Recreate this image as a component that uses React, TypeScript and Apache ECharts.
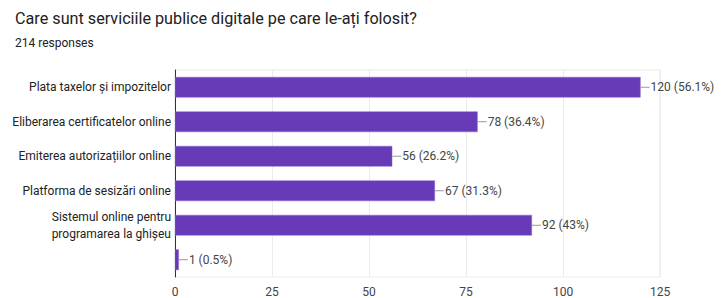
import React, { useEffect, useRef } from "react";
import * as echarts from "echarts";

const titleText = "Care sunt serviciile publice digitale pe care le-ați folosit?";
const subtitleText = "214 responses";
const categories = [
  "Plata taxelor și impozitelor",
  "Eliberarea certificatelor online",
  "Emiterea autorizațiilor online",
  "Platforma de sesizări online",
  "Sistemul online pentru\nprogramarea la ghișeu",
  "",
];
const values = [120, 78, 56, 67, 92, 1];
const percents = ["56.1%", "36.4%", "26.2%", "31.3%", "43%", "0.5%"];
const xTicks = [0, 25, 50, 75, 100, 125];

export default function App() {
  const ref = useRef<HTMLDivElement>(null);
  useEffect(() => {
    if (!ref.current) return;
    const chart = echarts.init(ref.current, null, { renderer: "svg" });
    chart.setOption({
      animation: false,
      textStyle: { fontFamily: "Roboto" },
      title: {
        text: titleText,
        subtext: subtitleText,
        left: 10,
        top: 5,
        itemGap: 11,
        textStyle: { fontSize: 16.2, fontWeight: "normal", color: "#212121", fontFamily: "Roboto" },
        subtextStyle: { fontSize: 12, color: "#212121", fontFamily: "Roboto" },
      },
      grid: {
        left: 175,
        right: 61,
        top: 70,
        bottom: 20,
        show: true,
        borderColor: "#ebebeb",
        borderWidth: 1,
      },
      xAxis: {
        type: "value",
        min: xTicks[0],
        max: xTicks[xTicks.length - 1],
        interval: 25,
        axisLine: { show: false },
        axisTick: { show: false },
        splitLine: { show: true, lineStyle: { color: "#ebebeb" } },
        axisLabel: { color: "#444", fontSize: 12, margin: 9 },
      },
      yAxis: {
        type: "category",
        inverse: true,
        data: categories,
        axisLine: { show: true, lineStyle: { color: "#333", width: 1 } },
        axisTick: { show: false },
        axisLabel: { color: "#222", fontSize: 12, margin: 4, lineHeight: 17 },
      },
      series: [
        {
          type: "bar",
          data: values,
          barCategoryGap: "40%",
          itemStyle: { color: "#673ab7", borderColor: "#8e6bd0", borderWidth: 0.5 },
          label: {
            show: true,
            position: "right",
            distance: 0,
            color: "#444",
            fontSize: 12,
            formatter: (p: any) => `{ln|}{t|${values[p.dataIndex]} (${percents[p.dataIndex]})}`,
            rich: {
              ln: { width: 9, height: 1, backgroundColor: "#999", verticalAlign: "middle" },
              t: { color: "#444", fontSize: 12, padding: [0, 0, 0, 1] },
            },
          },
        },
      ],
    });
    return () => chart.dispose();
  }, []);
  return (
    <div
      ref={ref}
      style={{ position: "absolute", left: 0, top: 0, width: 721, height: 298 }}
    />
  );
}
